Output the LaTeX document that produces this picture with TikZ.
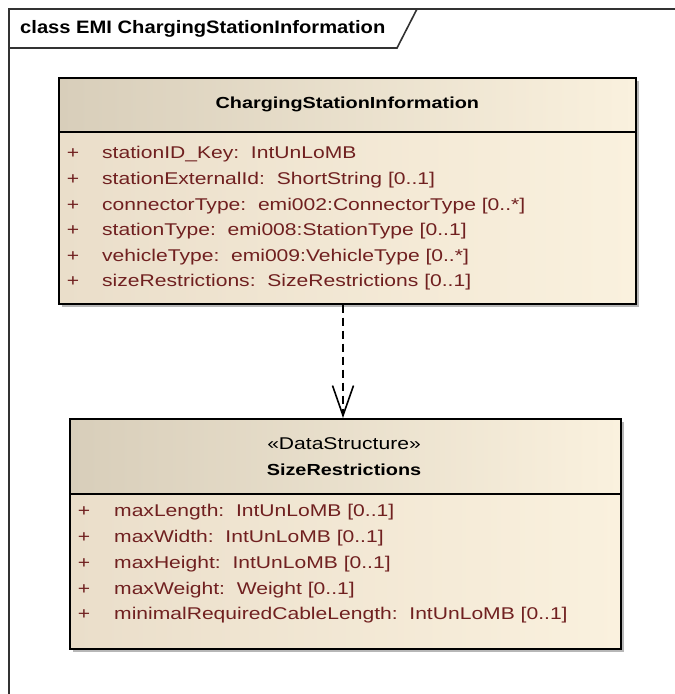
\documentclass[tikz,border=0pt]{standalone}
\usepackage{fontspec}
\setmainfont{Liberation Sans}
\newfontfamily\umlfont[FakeStretch=1.24]{Liberation Sans}
\newfontfamily\umltitlefont[FakeStretch=1.12]{Liberation Sans}
\usepackage{tikz}
\usetikzlibrary{arrows.meta}
\usetikzlibrary{shadows}
\usetikzlibrary{positioning}

\definecolor{umlhead}{RGB}{216,206,186}
\definecolor{umllight}{RGB}{250,241,222}
\definecolor{umlbody}{RGB}{234,222,202}
\definecolor{attrred}{RGB}{112,32,32}
\definecolor{framegray}{RGB}{50,50,50}

\begin{document}
\begin{tikzpicture}[x=1pt,y=-1pt,
  classbox/.style={rectangle,draw=black,line width=1.6pt,inner sep=0pt,anchor=north west,
    left color=umlbody,right color=umllight,
    drop shadow={shadow xshift=3pt,shadow yshift=-3pt,fill=black!35,opacity=0.8}},
  classhead/.style={rectangle,draw=black,line width=1.6pt,inner sep=0pt,anchor=north west,
    left color=umlhead,right color=umllight},
  attr/.style={anchor=west,inner sep=0pt,text=attrred,font=\umlfont\fontsize{17}{19}\selectfont},
  vis/.style={anchor=center,inner sep=0pt,text=attrred,font=\umlfont\fontsize{17}{19}\selectfont},
  dep/.style={line width=1.6pt,dash pattern=on 8pt off 5pt,-{Straight Barb[length=30pt,width=21pt]}}]

\useasboundingbox[fill=white] (0,0) rectangle (675,694);

% frame
\draw[framegray,line width=1.6pt] (9,700) -- (9,9) -- (690,9);
\draw[framegray,line width=1.6pt] (9,48) -- (397,48) -- (417,9);
\node[anchor=west,inner sep=0pt,font=\umltitlefont\bfseries\fontsize{18}{20}\selectfont] (frametitle) at (20,29) {class EMI ChargingStationInformation};

% ChargingStationInformation
\node[classbox,minimum width=577pt,minimum height=226pt] (csi) at (58,77) {};
\node[classhead,minimum width=577pt,minimum height=54pt] (csihead) at (58,77) {};
\node[font=\umlfont\bfseries\fontsize{16}{18}\selectfont] (csiname) at (csihead.center) {ChargingStationInformation};
\node[vis] (p1) at (73,154) {+};
\node[attr] (a1) at (102,154) {stationID\_Key:\ \ IntUnLoMB};
\node[vis] (p2) at (73,180) {+};
\node[attr] (a2) at (102,180) {stationExternalId:\ \ ShortString [0..1]};
\node[vis] (p3) at (73,206) {+};
\node[attr] (a3) at (102,206) {connectorType:\ \ emi002:ConnectorType [0..*]};
\node[vis] (p4) at (73,231) {+};
\node[attr] (a4) at (102,231) {stationType:\ \ emi008:StationType [0..1]};
\node[vis] (p5) at (73,257) {+};
\node[attr] (a5) at (102,257) {vehicleType:\ \ emi009:VehicleType [0..*]};
\node[vis] (p6) at (73,282) {+};
\node[attr] (a6) at (102,282) {sizeRestrictions:\ \ SizeRestrictions [0..1]};

% SizeRestrictions
\node[classbox,minimum width=551pt,minimum height=230pt] (sr) at (69,418) {};
\node[classhead,minimum width=551pt,minimum height=75pt] (srhead) at (69,418) {};
\node[font=\umlfont\fontsize{17}{19}\selectfont] (srstereo) at (344,444) {«DataStructure»};
\node[font=\umlfont\bfseries\fontsize{16}{18}\selectfont] (srname) at (344,470) {SizeRestrictions};
\node[vis] (q1) at (84,512) {+};
\node[attr] (b1) at (114,512) {maxLength:\ \ IntUnLoMB [0..1]};
\node[vis] (q2) at (84,538) {+};
\node[attr] (b2) at (114,538) {maxWidth:\ \ IntUnLoMB [0..1]};
\node[vis] (q3) at (84,564) {+};
\node[attr] (b3) at (114,564) {maxHeight:\ \ IntUnLoMB [0..1]};
\node[vis] (q4) at (84,590) {+};
\node[attr] (b4) at (114,590) {maxWeight:\ \ Weight [0..1]};
\node[vis] (q5) at (84,615) {+};
\node[attr] (b5) at (114,615) {minimalRequiredCableLength:\ \ IntUnLoMB [0..1]};

% dependency
\coordinate (depx) at (343,0);
\draw[dep] (csi.south -| depx) -- (sr.north -| depx);
\end{tikzpicture}
\end{document}
